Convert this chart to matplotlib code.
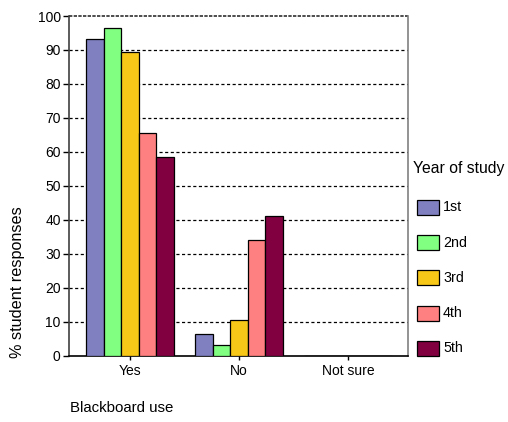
import matplotlib.pyplot as plt
import matplotlib.patches as patches
import numpy as np

plt.rcParams['font.family'] = ['Liberation Sans', 'DejaVu Sans']

# data
categories = ["Yes", "No", "Not sure"]
years = ["1st", "2nd", "3rd", "4th", "5th"]
values = {
    "1st": [93.3, 6.5, 0],
    "2nd": [96.6, 3.2, 0],
    "3rd": [89.4, 10.4, 0],
    "4th": [65.7, 34.0, 0],
    "5th": [58.6, 41.1, 0],
}
colors = ["#8080C0", "#80FF80", "#F8C818", "#FF8080", "#800040"]
yticks = list(range(0, 101, 10))

fig = plt.figure(figsize=(5.08, 4.22), dpi=100)
ax = fig.add_axes([69 / 508, 1 - 355.7 / 422, (408 - 69) / 508, (355.7 - 16) / 422])

x = np.arange(len(categories))
width = 0.16
for i, yr in enumerate(years):
    ax.bar(x + (i - 2) * width, values[yr], width, color=colors[i],
           edgecolor='black', linewidth=0.9, zorder=3, label=yr)

ax.set_xlim(-0.56, 2.55)
ax.set_ylim(0, 100)
ax.set_yticks(yticks)
ax.set_xticks(x)
ax.set_xticklabels(categories)
ax.tick_params(axis='y', length=4, pad=2, labelsize=10, width=1)
ax.tick_params(axis='x', length=3, pad=3, labelsize=10, width=1)

# dashed horizontal grid lines
for yv in yticks[1:-1]:
    ax.axhline(yv, color='black', linestyle=(0, (2.5, 2)), linewidth=0.9, zorder=1)
ax.axhline(100, color='#303030', linestyle=(0, (2, 0.8)), linewidth=1.2, zorder=1,
           clip_on=False)

ax.spines['top'].set_visible(False)
ax.spines['right'].set_color('#808080')
ax.spines['right'].set_linewidth(1.2)
ax.spines['left'].set_color('#404040')
ax.spines['left'].set_linewidth(1.2)
ax.spines['bottom'].set_linewidth(1.2)

fig.text(18 / 508, 1 - 282 / 422, "% student responses", rotation=90,
         ha='center', va='center', fontsize=11.7)
fig.text(70 / 508, 1 - 408 / 422, "Blackboard use", ha='left', va='center', fontsize=10.8)

# legend
fig.text(413 / 508, 1 - 168 / 422, "Year of study", ha='left', va='center', fontsize=11.3)
for i, yr in enumerate(years):
    cy = 207.5 + i * 35.2
    rect = patches.Rectangle((417 / 508, 1 - (cy + 7.5) / 422), 22 / 508, 15 / 422,
                             transform=fig.transFigure, facecolor=colors[i],
                             edgecolor='black', linewidth=0.9)
    fig.add_artist(rect)
    fig.text(443 / 508, 1 - cy / 422, yr, ha='left', va='center', fontsize=10.3)

fig.savefig("out.png", dpi=100)
